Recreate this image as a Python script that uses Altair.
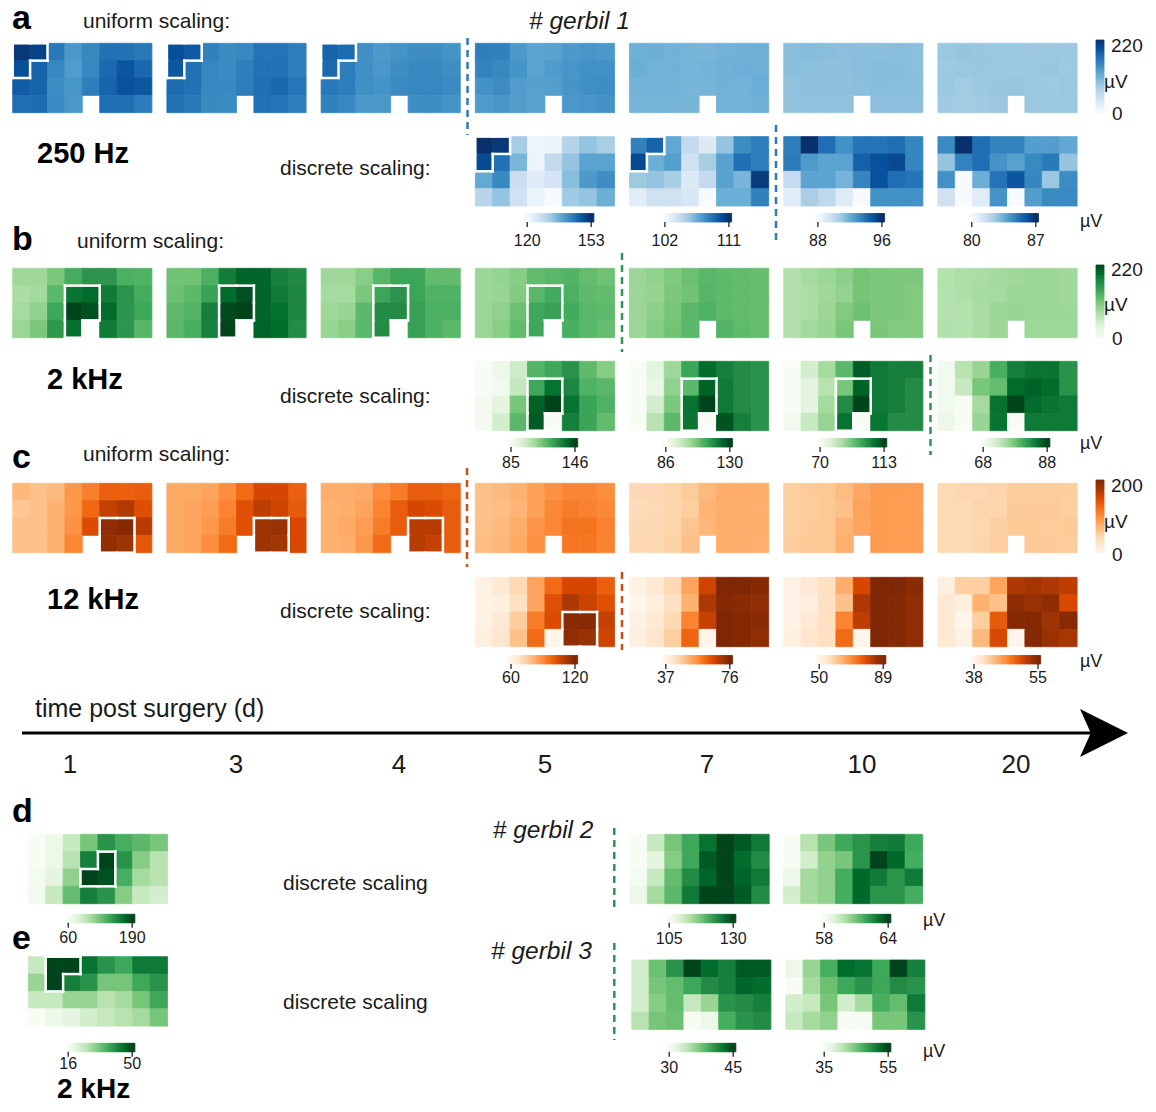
import altair as alt
import pandas as pd

# ---------------- data (µV), 4 rows x 8 electrode columns, None = missing contact ----
DAYS = ["1", "3", "4", "5", "7", "10", "20"]

A_D1 = [[213, 205, 158, 132, 147, 165, 165, 158], [194, 176, 147, 128, 147, 172, 189, 174],
        [183, 176, 141, 134, 154, 176, 191, 187], [167, 169, 143, 132, None, 167, 167, 156]]
A_D3 = [[194, 185, 152, 143, 147, 163, 163, 154], [187, 165, 147, 143, 154, 165, 165, 154],
        [169, 165, 147, 145, 154, 167, 174, 161], [165, 158, 145, 143, None, 165, 163, 154]]
A_D4 = [[176, 169, 139, 130, 136, 141, 141, 136], [172, 154, 139, 132, 141, 145, 145, 141],
        [158, 154, 139, 136, 143, 147, 147, 143], [152, 147, 132, 132, None, 141, 141, 136]]
A_D5 = [[153, 152, 131.6, 121.7, 122, 129.9, 133.2, 131.2], [149.7, 144.8, 135.2, 121.7, 128.6, 133.2, 138.2, 138.2],
        [137.2, 141.8, 127.6, 124, 125.9, 134.2, 139.5, 141.1], [129.6, 133.2, 126.6, 122, None, 132.2, 133.2, 136.5]]
A_D7 = [[108.2, 109.2, 106.8, 104.3, 103.2, 105.6, 107.8, 108.3], [110.1, 106.5, 107.1, 103.8, 105.1, 107, 108.8, 108.3],
        [105.4, 105.6, 105.1, 103.2, 104.3, 107, 106.2, 110.6], [103, 103.8, 103.8, 103.4, None, 106.5, 106.5, 108.2]]
A_D10 = [[93.6, 96, 94.1, 93, 93.9, 93.9, 94.1, 93.4], [93.7, 92.7, 92.4, 92.4, 94.5, 95, 95.2, 93.4],
         [90, 92.4, 92.4, 91.8, 93.4, 95, 94.1, 93.9], [88.9, 90.7, 90.2, 89, None, 93, 93, 93]]
A_D20 = [[84.6, 87, 85.3, 84.8, 84.8, 84, 84, 83.7], [82.8, 84.8, 85.3, 84.3, 83.9, 84.6, 85, 82.8],
         [84.4, 80, 83.5, 85.2, 86, 84.7, 82.7, 84.5], [81.4, 80, 80.8, 84.3, None, 84, 84.6, 84.6]]

B_D1 = [[84, 84, 106, 136, 158, 156, 132, 130], [75, 81, 123, 185, 193, 180, 158, 136],
        [79, 92, 141, 220, 211, 193, 156, 141], [86, 106, 154, 189, None, 180, 156, 125]]
B_D3 = [[112, 112, 132, 178, 198, 198, 176, 167], [114, 123, 145, 193, 211, 198, 180, 169],
        [121, 128, 176, 216, 220, 198, 189, 169], [123, 134, 174, 220, None, 198, 193, 165]]
B_D4 = [[84, 84, 97, 125, 143, 143, 119, 119], [79, 79, 106, 143, 158, 143, 130, 130],
        [84, 88, 123, 165, 165, 147, 132, 132], [88, 97, 123, 165, None, 147, 132, 123]]
B_D5 = [[85, 89.3, 98.4, 120.4, 124, 128.9, 118.6, 112.5], [85, 87.4, 100.9, 124, 136.9, 132, 121, 119.2],
        [86.8, 92.6, 114.9, 140.5, 146, 136.9, 124.7, 121], [86.8, 97.2, 119.2, 141.7, None, 133.8, 124.7, 118]]
B_D7 = [[86, 91.7, 102.7, 114.6, 124.5, 121.2, 119, 117.7], [86, 90, 104.5, 110.6, 126, 122.1, 119, 117.7],
        [86, 94.8, 107.1, 123.4, 130, 122.1, 119, 117.7], [86, 99.2, 110.6, 123, None, 127.8, 121.2, 117.7]]
B_D10 = [[70, 78.6, 85.5, 94.1, 110, 105.3, 104.4, 104.4], [70, 75.6, 82.9, 91.1, 109.1, 105.3, 104.4, 102.3],
         [70, 75.6, 85.5, 102.3, 113, 105.3, 104.4, 102.3], [71.7, 80.8, 87.2, 106.6, None, 106.1, 102.3, 102.3]]
B_D20 = [[68.8, 74, 76, 80.2, 84, 84.8, 84.8, 82.4], [68.8, 73, 77.8, 78.8, 85.5, 86.2, 85.5, 82.4],
         [68.8, 68, 75.2, 85, 88, 85.5, 84.8, 84.4], [69.4, 68, 76, 84.8, None, 84.4, 84.4, 84.4]]

C_D1 = [[68, 60, 66, 92, 110, 132, 132, 134], [56, 60, 72, 92, 126, 160, 170, 146],
        [60, 60, 72, 96, 148, 190, 196, 166], [60, 60, 72, 104, None, 186, 180, 138]]
C_D3 = [[78, 78, 82, 100, 124, 152, 152, 132], [78, 82, 88, 106, 144, 164, 156, 136],
        [78, 82, 92, 112, 144, 180, 184, 150], [78, 82, 100, 124, None, 180, 176, 150]]
C_D4 = [[75, 75, 78, 100, 112, 134, 134, 128], [72, 75, 82, 106, 134, 152, 148, 134],
        [72, 78, 88, 112, 134, 166, 166, 134], [72, 75, 92, 124, None, 166, 160, 134]]
C_D5 = [[61.8, 66, 72, 84.6, 97.2, 105.6, 105.6, 99.6], [61.8, 63, 69.6, 84.6, 103.2, 111.6, 107.4, 103.2],
        [61.8, 66, 75.6, 93.6, 104.4, 118.2, 118.2, 108], [63, 67.5, 78, 97.2, None, 117, 115.2, 106.8]]
C_D7 = [[38.2, 40.9, 44.8, 53, 67.4, 76, 76, 75.2], [37, 39, 43.2, 51, 70.5, 75.2, 74.8, 74],
        [38.2, 40.9, 44.8, 57.7, 68.2, 76, 75.2, 74.8], [39, 41.9, 47.1, 62, None, 76, 75.2, 74]]
C_D10 = [[51.2, 53.9, 56.2, 64.6, 79.6, 89, 89, 87.8], [51.2, 52, 56.2, 61.7, 83.5, 89, 88.2, 87],
         [51.2, 53.9, 56.2, 70.7, 82, 89, 88.2, 87], [52, 54.9, 56.2, 74.2, None, 89, 88.2, 87]]
C_D20 = [[38.9, 42.3, 42.3, 45, 52.6, 53, 52.6, 51.9], [39.7, 38.9, 44.1, 43.1, 54.2, 53.6, 54.2, 50.8],
         [39.7, 38, 42.4, 49.6, 54.7, 54.7, 53.3, 54.5], [39.7, 38.5, 43.6, 50.8, None, 54.7, 53.6, 52.9]]

D_2K = [[60, 69.1, 92.5, 123.7, 153.6, 139.3, 132.8, 123.7], [60, 69.1, 99, 164, 190, 153.6, 118.5, 99],
        [62.6, 76.3, 114.6, 190, 184.8, 139.3, 106.8, 99], [65.2, 92.5, 130.2, 164, 153.6, 118.5, 92.5, 86]]
E_2K = [[24.5, 50, 50, 44.9, 40.5, 37.8, 43.9, 43.9], [29.6, 50, 43.2, 40.5, 32.7, 32.7, 37.8, 40.5],
        [24.5, 24.5, 29.6, 29.6, 26.2, 28.2, 32.7, 37.8], [16, 18.4, 20.3, 22.8, 24.5, 26.2, 28.2, 32.7]]
G2_A = [[105, 111.3, 117.3, 121, 126.3, 130, 128.3, 125.5], [105, 108.1, 116.3, 121, 128.3, 130, 126.9, 123.8],
        [105.5, 111.3, 118.5, 123.8, 127.5, 130, 127.5, 125.5], [106.8, 114, 119, 125.5, 130, 130, 128.3, 123.8]]
G2_B = [[58, 59.8, 60.9, 61.8, 62.3, 62.8, 62.9, 61.8], [58, 59.2, 60.5, 60.9, 62.3, 64, 63.3, 61.7],
        [58.4, 60.2, 60.5, 61.7, 63.3, 62.9, 62.3, 62.9], [59.2, 60.2, 60.5, 61.7, 63.3, 62.3, 62.3, 61.7]]
G3_A = [[33, 37.8, 40.8, 45, 43.1, 42, 44, 44], [33, 37.4, 38.1, 39.6, 41.3, 42, 43.5, 43.1],
        [33, 36.8, 38.1, 33.8, 36, 40.8, 41.3, 42], [34.5, 37.4, 37.8, 30, 31, 39.2, 40.8, 41.3]]
G3_B = [[36.4, 43, 47.2, 52.5, 52, 47.8, 55, 51], [35, 42.2, 45.4, 47.8, 49.4, 47.8, 50, 49.4],
        [39, 40, 44.8, 39, 42.2, 47.2, 45.8, 51.4], [40, 42.2, 43.4, 35, 35, 44.8, 44.8, 49.4]]

A_UNIFORM_MAX = 220
B_UNIFORM_MAX = 220
C_UNIFORM_MAX = 200
A_TICKS = [[120, 153], [102, 111], [88, 96], [80, 87]]
B_TICKS = [[85, 146], [86, 130], [70, 113], [68, 88]]
C_TICKS = [[60, 120], [37, 76], [50, 89], [38, 55]]
D_TICKS = [60, 190]
E_TICKS = [16, 50]
G2_TICKS = [[105, 130], [58, 64]]
G3_TICKS = [[30, 45], [35, 55]]

BLUES = ["#f7fbff", "#deebf7", "#c6dbef", "#9ecae1", "#6baed6", "#4292c6", "#2171b5", "#08519c", "#08306b"]
GREENS = ["#f7fcf5", "#e5f5e0", "#c7e9c0", "#a1d99b", "#74c476", "#41ab5d", "#238b45", "#006d2c", "#00441b"]
ORANGES = ["#fff5eb", "#fee6ce", "#fdd0a2", "#fdae6b", "#fd8d3c", "#f16913", "#d94801", "#a63603", "#7f2704"]

# ---------------- layout (page pixels) ----------------
CW, CH = 17.4, 17.35
COL_X = [12.7, 166.9, 321.1, 475.3, 629.5, 783.7, 937.9]
TOP = {"a_u": 43.3, "a_d": 136.6, "b_u": 268.3, "b_d": 361.3, "c_u": 483.3, "c_d": 577.3}
BAR_W, BAR_H, INSET = 69.0, 8.5, 2.5
A_BAR_X = [524.7, 662.4, 815.4, 969.3]
B_BAR_X = [508.5, 663.3, 817.6, 980.7]
C_BAR_X = [508.5, 663.3, 816.7, 971.5]
BAR_Y = {"a": 213.5, "b": 438.5, "c": 655.5}
LAB_Y = {"a": 245.5, "b": 467.5, "c": 682.5}

OUT_A = [(0, 0), (1, 0), (0, 1)]
OUT_B = [(3, 1), (4, 1), (3, 2), (4, 2), (3, 3)]
OUT_C = [(5, 2), (6, 2), (5, 3), (6, 3)]
OUT_D = [(4, 1), (4, 2), (3, 2)]
OUT_E = [(1, 0), (2, 0), (1, 1)]

X = alt.X("x:Q", scale=alt.Scale(domain=[8, 1148], nice=False, zero=False), axis=None)
Y = alt.Y("y:Q", scale=alt.Scale(domain=[8, 1104], nice=False, zero=False, reverse=True), axis=None)


def cells(grid, x0, y0, fill=None):
    out = []
    for r, row in enumerate(grid):
        for c, v in enumerate(row):
            if v is None:
                if fill is None:
                    continue
                v = fill
            out.append(dict(x=x0 + c * CW, x2=x0 + (c + 1) * CW, y=y0 + r * CH, y2=y0 + (r + 1) * CH, v=v))
    return out


def hbar(bx, by, lo, hi, n=46):
    out = []
    tl, tr = bx + INSET, bx + BAR_W - INSET
    for i in range(n):
        xa = bx + i * BAR_W / n
        xb = xa + BAR_W / n
        xm = (xa + xb) / 2
        out.append(dict(x=xa, x2=xb + 0.2, y=by, y2=by + BAR_H, v=lo + (hi - lo) * (xm - tl) / (tr - tl)))
    return out


def vbar(top, bottom, vmax, n=50):
    out = []
    h = (bottom - top) / n
    for i in range(n):
        ya = top + i * h
        out.append(dict(x=1096, x2=1104, y=ya, y2=ya + h + 0.2, v=vmax * (1 - (i + 0.5) / n)))
    return out


def outline(cellset, x0, y0):
    s = set(cellset)
    segs = []
    for (c, r) in s:
        X0, X1 = x0 + c * CW, x0 + (c + 1) * CW
        Y0, Y1 = y0 + r * CH, y0 + (r + 1) * CH
        if (c, r - 1) not in s:
            segs.append(dict(x=X0, y=Y0, x2=X1, y2=Y0))
        if (c, r + 1) not in s:
            segs.append(dict(x=X0, y=Y1, x2=X1, y2=Y1))
        if (c - 1, r) not in s:
            segs.append(dict(x=X0, y=Y0, x2=X0, y2=Y1))
        if (c + 1, r) not in s:
            segs.append(dict(x=X1, y=Y0, x2=X1, y2=Y1))
    return segs


def heat_layer(rows, lo, hi, pal):
    dom = [lo + k * (hi - lo) / 8 for k in range(9)]
    sc = alt.Scale(domain=dom, range=pal, clamp=True, interpolate="rgb")
    return alt.Chart(pd.DataFrame(rows)).mark_rect(strokeWidth=0.8).encode(
        x=X, x2="x2:Q", y=Y, y2="y2:Q",
        color=alt.Color("v:Q", scale=sc, legend=None),
        stroke=alt.Stroke("v:Q", scale=sc, legend=None),
    )


layers = []
outl = []
ticks = []
tick_labels = []


def add_bar_ticks(bx, by, ly, lo, hi):
    for xx, val in [(bx + INSET, lo), (bx + BAR_W - INSET, hi)]:
        ticks.append(dict(x=xx, y=by + BAR_H, y2=by + BAR_H + 5))
        tick_labels.append(dict(x=xx, y=ly, t=str(val), s=16))


# uniform rows
uniform = [("a", [A_D1, A_D3, A_D4, A_D5, A_D7, A_D10, A_D20], A_UNIFORM_MAX, BLUES, (40, 113)),
           ("b", [B_D1, B_D3, B_D4, B_D5, B_D7, B_D10, B_D20], B_UNIFORM_MAX, GREENS, (265, 338)),
           ("c", [C_D1, C_D3, C_D4, C_D5, C_D7, C_D10, C_D20], C_UNIFORM_MAX, ORANGES, (480, 553))]
for key, grids, vmax, pal, (bt, bb) in uniform:
    rows = []
    for i, g in enumerate(grids):
        rows += cells(g, COL_X[i], TOP[key + "_u"])
    rows += vbar(bt, bb, vmax)
    layers.append(heat_layer(rows, 0, vmax, pal))

for i in range(3):
    outl += outline(OUT_A, COL_X[i], TOP["a_u"])
    outl += outline(OUT_B, COL_X[i], TOP["b_u"])
    outl += outline(OUT_C, COL_X[i], TOP["c_u"])
outl += outline(OUT_B, COL_X[3], TOP["b_u"])

# discrete rows (days 5, 7, 10, 20)
discrete = [("a", [A_D5, A_D7, A_D10, A_D20], A_TICKS, A_BAR_X, BLUES),
            ("b", [B_D5, B_D7, B_D10, B_D20], B_TICKS, B_BAR_X, GREENS),
            ("c", [C_D5, C_D7, C_D10, C_D20], C_TICKS, C_BAR_X, ORANGES)]
for key, grids, tks, bxs, pal in discrete:
    for j, g in enumerate(grids):
        lo, hi = tks[j]
        rows = cells(g, COL_X[3 + j], TOP[key + "_d"], fill=lo)
        rows += hbar(bxs[j], BAR_Y[key], lo, hi)
        layers.append(heat_layer(rows, lo, hi, pal))
        add_bar_ticks(bxs[j], BAR_Y[key], LAB_Y[key], lo, hi)

outl += outline(OUT_A, COL_X[3], TOP["a_d"]) + outline(OUT_A, COL_X[4], TOP["a_d"])
for j in range(3):
    outl += outline(OUT_B, COL_X[3 + j], TOP["b_d"])
outl += outline(OUT_C, COL_X[3], TOP["c_d"])

# panels d, e and gerbils 2, 3
extra = [(D_2K, D_TICKS, 28.3, 834.3, 65.7, 914.3, 943.0),
         (E_2K, E_TICKS, 28.3, 956.7, 65.7, 1043.3, 1068.5),
         (G2_A, G2_TICKS[0], 630.0, 834.3, 666.7, 914.3, 944.0),
         (G2_B, G2_TICKS[1], 783.3, 834.3, 821.7, 914.3, 944.0),
         (G3_A, G3_TICKS[0], 631.7, 960.0, 666.7, 1043.3, 1072.5),
         (G3_B, G3_TICKS[1], 785.7, 960.0, 821.7, 1043.3, 1072.5)]
for g, (lo, hi), px, py, bx, by, ly in extra:
    rows = cells(g, px, py) + hbar(bx, by, lo, hi)
    layers.append(heat_layer(rows, lo, hi, GREENS))
    add_bar_ticks(bx, by, ly, lo, hi)
outl += outline(OUT_D, 28.3, 834.3) + outline(OUT_E, 28.3, 956.7)

# outlines
layers.append(alt.Chart(pd.DataFrame(outl)).mark_rule(color="white", strokeWidth=2.5, strokeCap="square").encode(
    x=X, y=Y, x2="x2:Q", y2="y2:Q"))

# colorbar ticks
layers.append(alt.Chart(pd.DataFrame(ticks)).mark_rule(color="#222222", strokeWidth=1.3).encode(
    x=X, y=Y, y2="y2:Q"))

# dashed separators
dashes = pd.DataFrame([
    dict(x=467.5, y=38, y2=135, col="#2f78b8"),
    dict(x=776.0, y=125, y2=242, col="#2f78b8"),
    dict(x=622.0, y=253, y2=352, col="#2f9550"),
    dict(x=930.5, y=355, y2=455, col="#2f9550"),
    dict(x=467.0, y=468, y2=567, col="#cc4e16"),
    dict(x=622.0, y=572, y2=650, col="#cc4e16"),
    dict(x=614.3, y=828, y2=908, col="#2f9550"),
    dict(x=614.3, y=943, y2=1040, col="#2f9550"),
])
layers.append(alt.Chart(dashes).mark_rule(strokeDash=[7, 5], strokeWidth=2.5).encode(
    x=X, y=Y, y2="y2:Q", color=alt.Color("col:N", scale=None)))

# time arrow
layers.append(alt.Chart(pd.DataFrame([dict(x=22, x2=1095, y=733)])).mark_rule(color="black", strokeWidth=3).encode(
    x=X, x2="x2:Q", y=Y))
layers.append(alt.Chart(pd.DataFrame([dict(x=1104, y=733)])).mark_point(
    shape="M1,0L-1,-1L-0.55,0L-1,1Z", filled=True, size=2304, color="black", opacity=1, strokeWidth=0).encode(x=X, y=Y))

# texts
TXT = "#1a1a1a"
FONT = "Liberation Sans"
normal_left = pd.DataFrame([
    dict(x=83, y=27.5, t="uniform scaling:", s=21),
    dict(x=280, y=174.5, t="discrete scaling:", s=21),
    dict(x=77, y=247.5, t="uniform scaling:", s=21),
    dict(x=280, y=403, t="discrete scaling:", s=21),
    dict(x=83, y=460.5, t="uniform scaling:", s=21),
    dict(x=280, y=618, t="discrete scaling:", s=21),
    dict(x=35, y=717, t="time post surgery (d)", s=25),
    dict(x=283, y=890, t="discrete scaling", s=21),
    dict(x=283, y=1009, t="discrete scaling", s=21),
    dict(x=1080, y=227, t="µV", s=18),
    dict(x=1080, y=449, t="µV", s=18),
    dict(x=1080, y=667, t="µV", s=18),
    dict(x=923, y=926, t="µV", s=18),
    dict(x=923, y=1057, t="µV", s=18),
    dict(x=1111, y=52, t=str(A_UNIFORM_MAX), s=19),
    dict(x=1104, y=88, t="µV", s=19),
    dict(x=1112, y=120, t="0", s=19),
    dict(x=1111, y=276, t=str(B_UNIFORM_MAX), s=19),
    dict(x=1104, y=311, t="µV", s=19),
    dict(x=1112, y=345, t="0", s=19),
    dict(x=1111, y=492, t=str(C_UNIFORM_MAX), s=19),
    dict(x=1104, y=528, t="µV", s=19),
    dict(x=1112, y=561, t="0", s=19),
])
day_x = [70, 236, 399, 545, 707, 862, 1016]
center_rows = [dict(x=day_x[i], y=773.3, t=d, s=26) for i, d in enumerate(DAYS)] + tick_labels
bold_left = pd.DataFrame([
    dict(x=12, y=29.3, t="a", s=34), dict(x=12, y=250, t="b", s=34), dict(x=12, y=468, t="c", s=34),
    dict(x=12, y=821.7, t="d", s=34), dict(x=12, y=949.3, t="e", s=34),
    dict(x=37, y=163.3, t="250 Hz", s=29), dict(x=47, y=388.5, t="2 kHz", s=29),
    dict(x=47, y=608.5, t="12 kHz", s=29), dict(x=57, y=1098, t="2 kHz", s=28),
])
italic_left = pd.DataFrame([
    dict(x=529, y=29, t="# gerbil 1", s=24.5),
    dict(x=492.7, y=838, t="# gerbil 2", s=24.5),
    dict(x=491, y=958.5, t="# gerbil 3", s=24.5),
])

TX = alt.Text("t:N")
SZ = alt.Size("s:Q", scale=None)
layers.append(alt.Chart(normal_left).mark_text(align="left", baseline="alphabetic", font=FONT, color=TXT).encode(
    x=X, y=Y, text=TX, size=SZ))
layers.append(alt.Chart(pd.DataFrame(center_rows)).mark_text(align="center", baseline="alphabetic", font=FONT, color=TXT).encode(
    x=X, y=Y, text=TX, size=SZ))
layers.append(alt.Chart(bold_left).mark_text(align="left", baseline="alphabetic", font=FONT, fontWeight="bold", color="#000000").encode(
    x=X, y=Y, text=TX, size=SZ))
layers.append(alt.Chart(italic_left).mark_text(align="left", baseline="alphabetic", font=FONT, fontStyle="italic", color=TXT).encode(
    x=X, y=Y, text=TX, size=SZ))

chart = alt.layer(*layers).resolve_scale(color="independent", stroke="independent").properties(
    width=1140, height=1096, padding=0, autosize=alt.AutoSizeParams(type="none")
).configure_view(stroke=None)

chart.save("out.html", embed_options={"renderer": "svg", "actions": False})
